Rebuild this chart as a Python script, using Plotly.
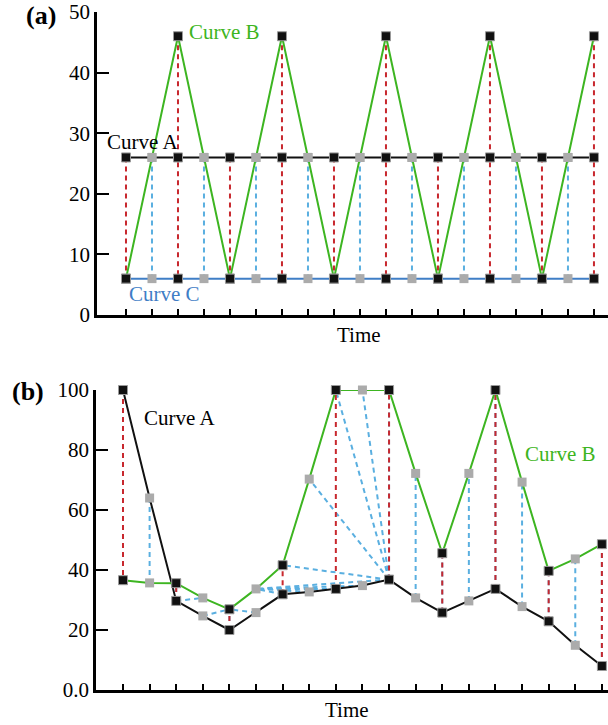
import plotly.graph_objects as go

# ---------------- data ----------------
idx = list(range(19))

# panel (a)
a_curveA = [26, 26, 26, 26, 26, 26, 26, 26, 26, 26, 26, 26, 26, 26, 26, 26, 26, 26, 26]
a_curveB = [6, 26, 46, 26, 6, 26, 46, 26, 6, 26, 46, 26, 6, 26, 46, 26, 6, 26, 46]
a_curveC = [6, 6, 6, 6, 6, 6, 6, 6, 6, 6, 6, 6, 6, 6, 6, 6, 6, 6, 6]
a_yticks = [0, 10, 20, 30, 40, 50]

# panel (b)
b_curveA = [100, 64, 29.7, 24.7, 20, 25.8, 31.9, 32.7, 33.7, 34.8, 36.8,
            30.7, 25.8, 29.7, 33.7, 27.8, 22.9, 14.9, 8]
b_curveB = [36.6, 35.7, 35.6, 30.7, 26.9, 33.7, 41.6, 70.3, 100, 100, 100,
            72.2, 45.6, 72.2, 100, 69.3, 39.7, 43.7, 48.6]
b_yticks = [0, 20, 40, 60, 80, 100]
b_yticktext = ["0.0", "20", "40", "60", "80", "100"]

# warping connections (index in curve A, index in curve B)
b_red_pairs = [(0, 0), (2, 2), (4, 4), (6, 6), (8, 8), (10, 10), (12, 12),
               (14, 14), (16, 16), (18, 18)]
b_blue_pairs = [(0, 0), (1, 1), (2, 2), (2, 3), (3, 4), (4, 4), (5, 4), (6, 5),
                (7, 5), (8, 5), (9, 5), (10, 5), (10, 6), (10, 7), (10, 8),
                (10, 9), (10, 10), (11, 11), (12, 12), (13, 13), (14, 14),
                (15, 15), (16, 16), (17, 17), (18, 18)]

# ---------------- styles ----------------
GREEN = "#3db521"
BLUEC = "#3f7ec6"
RED = "#c8282e"
LBLUE = "#5aafe0"
GRAYM = "#ababab"
FONT = "Liberation Serif"

fig = go.Figure()


def seg_trace(xs, ys, color, xa, ya):
    fig.add_trace(go.Scatter(x=xs, y=ys, mode="lines", xaxis=xa, yaxis=ya,
                             line=dict(color=color, width=2, dash="5px,4px"),
                             hoverinfo="skip", showlegend=False, cliponaxis=False))


def curve_trace(xs, ys, color, xa, ya):
    fig.add_trace(go.Scatter(x=xs, y=ys, mode="lines", xaxis=xa, yaxis=ya,
                             line=dict(color=color, width=2),
                             showlegend=False, cliponaxis=False))


def marker_trace(xs, ys, xa, ya):
    ev_x = [x for x in xs if x % 2 == 0]
    ev_y = [y for x, y in zip(xs, ys) if x % 2 == 0]
    od_x = [x for x in xs if x % 2 == 1]
    od_y = [y for x, y in zip(xs, ys) if x % 2 == 1]
    fig.add_trace(go.Scatter(x=od_x, y=od_y, mode="markers", xaxis=xa, yaxis=ya,
                             marker=dict(symbol="square", size=9, color=GRAYM,
                                         line=dict(width=0)),
                             showlegend=False, cliponaxis=False))
    fig.add_trace(go.Scatter(x=ev_x, y=ev_y, mode="markers", xaxis=xa, yaxis=ya,
                             marker=dict(symbol="square", size=9, color="#111111",
                                         line=dict(width=1, color="#9a9a9a")),
                             showlegend=False, cliponaxis=False))


# ---------- panel (a) ----------
bx, by, rx, ry = [], [], [], []
for i in idx:
    if i % 2 == 1:
        bx += [i, i, None]
        by += [a_curveA[i], a_curveC[i], None]
    else:
        top = max(a_curveA[i], a_curveB[i])
        rx += [i, i, None]
        ry += [top, a_curveC[i], None]
seg_trace(bx, by, LBLUE, "x", "y")
seg_trace(rx, ry, RED, "x", "y")
curve_trace(idx, a_curveC, BLUEC, "x", "y")
curve_trace(idx, a_curveA, "#111111", "x", "y")
curve_trace(idx, a_curveB, GREEN, "x", "y")
marker_trace(idx, a_curveC, "x", "y")
marker_trace(idx, a_curveA, "x", "y")
marker_trace(idx, a_curveB, "x", "y")

# ---------- panel (b) ----------
bx, by = [], []
for ia, ib in b_blue_pairs:
    bx += [ia, ib, None]
    by += [b_curveA[ia], b_curveB[ib], None]
rx, ry = [], []
for ia, ib in b_red_pairs:
    rx += [ia, ib, None]
    ry += [b_curveA[ia], b_curveB[ib], None]
seg_trace(bx, by, LBLUE, "x2", "y2")
seg_trace(rx, ry, RED, "x2", "y2")
curve_trace(idx, b_curveA, "#111111", "x2", "y2")
curve_trace(idx, b_curveB, GREEN, "x2", "y2")
marker_trace(idx, b_curveB, "x2", "y2")
marker_trace(idx, b_curveA, "x2", "y2")

# ---------------- axes ----------------
W, H = 608, 725
tickfont = dict(family=FONT, size=21, color="black")
xcommon = dict(showgrid=False, zeroline=False, showline=True, linecolor="black",
               linewidth=2.5, ticks="inside", ticklen=6, tickwidth=2,
               tickcolor="black", showticklabels=False, tickmode="array",
               tickvals=idx, automargin=False)
ycommon = dict(showgrid=False, zeroline=False, showline=True, linecolor="black",
               linewidth=2.5, ticks="inside", ticklen=12, tickwidth=2,
               tickcolor="black", tickfont=tickfont, tickmode="array",
               automargin=False)

fig.update_layout(
    width=W, height=H,
    margin=dict(l=0, r=0, t=0, b=0, pad=0, autoexpand=False),
    paper_bgcolor="white", plot_bgcolor="white",
    showlegend=False,
    xaxis=dict(xcommon, domain=[97 / W, 1], range=[-1.115, 18.54], anchor="y"),
    yaxis=dict(ycommon, domain=[1 - 315 / H, 1 - 12 / H], range=[0, 50],
               tickvals=a_yticks, anchor="x"),
    xaxis2=dict(xcommon, domain=[96 / W, 1], range=[-1.015, 18.23], anchor="y2"),
    yaxis2=dict(ycommon, domain=[1 - 690 / H, 1 - 390 / H], range=[0, 100],
                tickvals=b_yticks, ticktext=b_yticktext, anchor="x2"),
)

lab = dict(family=FONT, size=21)
ann = [
    dict(text="Curve B", x=3.77, y=46.7, xref="x", yref="y",
         font=dict(lab, color=GREEN)),
    dict(text="Curve A", x=0.63, y=28.5, xref="x", yref="y",
         font=dict(lab, color="black")),
    dict(text="Curve C", x=1.48, y=3.4, xref="x", yref="y",
         font=dict(lab, color=BLUEC)),
    dict(text="Curve A", x=2.14, y=90.8, xref="x2", yref="y2",
         font=dict(lab, color="black")),
    dict(text="Curve B", x=16.45, y=78.7, xref="x2", yref="y2",
         font=dict(lab, color=GREEN)),
    dict(text="<b>(a)</b>", x=41 / W, y=1 - 15 / H, xref="paper", yref="paper",
         font=dict(family=FONT, size=26, color="black")),
    dict(text="<b>(b)</b>", x=28 / W, y=1 - 391 / H, xref="paper", yref="paper",
         font=dict(family=FONT, size=26, color="black")),
    dict(text="Time", x=359 / W, y=1 - 335 / H, xref="paper", yref="paper",
         font=dict(lab, color="black")),
    dict(text="Time", x=346.5 / W, y=1 - 710 / H, xref="paper", yref="paper",
         font=dict(lab, color="black")),
]
for a in ann:
    a.update(showarrow=False, xanchor="center", yanchor="middle")
fig.update_layout(annotations=ann)

fig.write_html("out.html")
